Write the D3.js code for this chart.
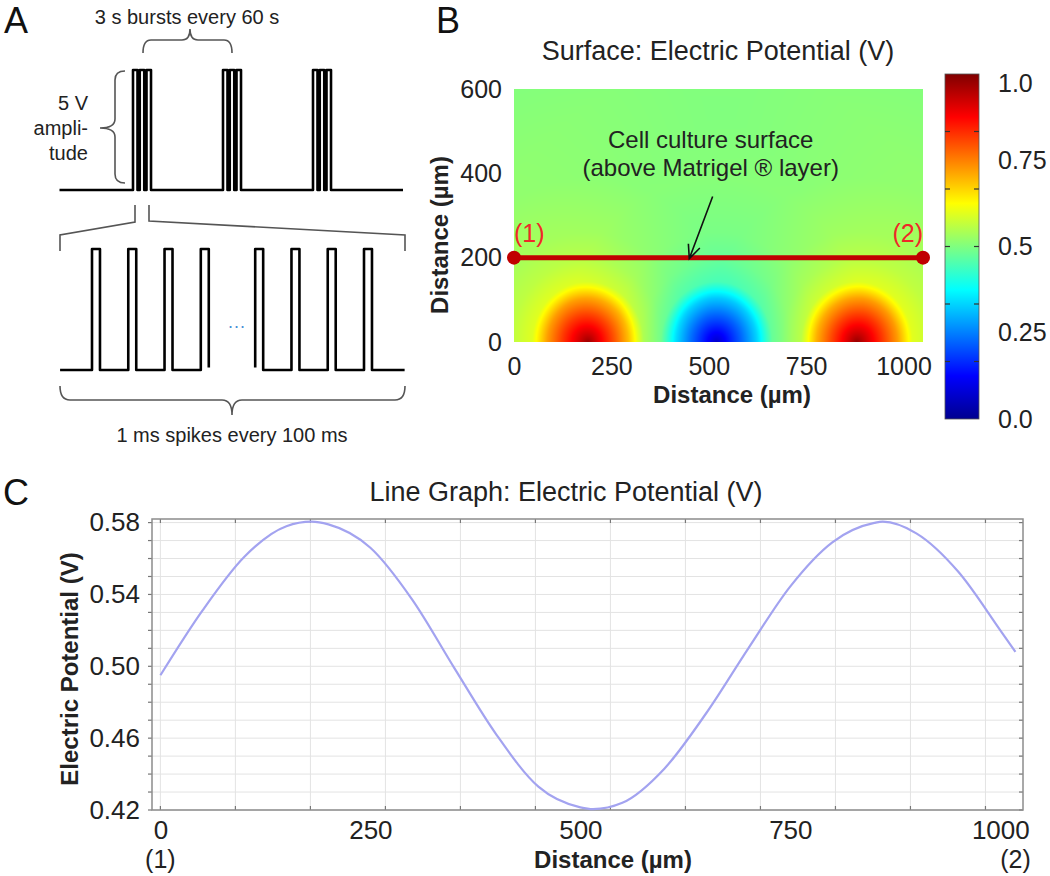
<!DOCTYPE html>
<html>
<head>
<meta charset="utf-8">
<script src="https://cdn.jsdelivr.net/npm/d3@7"></script>
<style>
  body { margin: 0; background: #fff; }
  svg text { font-family: "Liberation Sans", Arial, Helvetica, sans-serif; }
</style>
</head>
<body>
<div class="svg"></div>
<script>
// ---- panel A : stimulation schematic ----
var burstTimes = [0, 60, 120];            // s, one 3 s burst per minute
var burstSpikes = [0, 4.5, 9];            // spike offsets inside one burst (schematic)
var spikeTimesLeft = [0, 100, 200, 300];  // ms
var spikeTimesRight = [450, 550, 650, 750];

// ---- panel B : surface plot ----
var electrodeX = [190, 520, 880];         // µm, electrode centres on the floor
var electrodeV = [1.0, 0.0, 1.0];         // V
var profileR = [0, 0.15, 0.5, 0.8, 1.0, 1.1, 1.5, 2.0, 3.0, 5.0, 8.0];   // r / electrode radius
var profileF = [1.0, 0.9, 0.68, 0.48, 0.3, 0.22, 0.15, 0.1, 0.05, 0.015, 0];
var lineY = 200;                          // µm, cell culture surface
var surfXTicks = [0, 250, 500, 750, 1000];
var surfYTicks = [0, 200, 400, 600];
var cbTicks = [0, 0.25, 0.5, 0.75, 1];
var cbTickLabels = ['0.0', '0.25', '0.5', '0.75', '1.0'];
var cbMinorTicks = [1/6, 2/6, 3/6, 4/6, 5/6];
var jetStops = [0, 0.125, 0.375, 0.625, 0.875, 1];
var jetColors = ['#00008f', '#0000ff', '#00ffff', '#ffff00', '#ff0000', '#800000'];

// ---- panel C : potential along the line (1)-(2) ----
var distance  = [0, 50, 100, 150, 180, 200, 250, 300, 350, 400, 450, 500, 515,
                 550, 600, 650, 700, 750, 800, 850, 860, 900, 950, 1000, 1018];
var potential = [0.495, 0.531, 0.561, 0.578, 0.5805, 0.579, 0.566, 0.537, 0.499, 0.462, 0.433, 0.4215, 0.4205,
                 0.424, 0.443, 0.474, 0.510, 0.5445, 0.569, 0.5798, 0.5805, 0.574, 0.5526, 0.520, 0.508];
var lineXTicks = [0, 250, 500, 750, 1000];
var lineYTicks = [0.42, 0.46, 0.50, 0.54, 0.58];


function FigureDraw(settings) {
  Object.assign(this, FigureDraw.defaults, settings);
  this.appendSvg('div.svg');
  this.drawPanelA();
  this.drawSurface();
  this.drawColorbar();
  this.drawLineGraph();
  this.drawPanelLetters();
}

FigureDraw.defaults = {
  'svg_width': 1050,
  'svg_height': 876,
  'electrode_radius': 130,
  'text_color': '#222'
};

FigureDraw.prototype.appendSvg = function (selector) {
  this.svg = d3.select(selector || 'body')
    .append('svg')
    .attr('width', this.svg_width)
    .attr('height', this.svg_height);
};

FigureDraw.prototype.drawPanelA = function () {
  var svg = this.svg;
  var g = svg.append('g');
  var tc = this.text_color;

  // top trace: bursts
  var xTop = d3.scaleLinear().domain([0, 60]).range([133, 223]);
  var yTop = d3.scaleLinear().domain([0, 5]).range([190, 70]);
  var pw = 3;
  var p = d3.path();
  p.moveTo(xTop(-49), yTop(0));
  burstTimes.forEach(function (b) {
    burstSpikes.forEach(function (o) {
      var t = b + o;
      p.lineTo(xTop(t), yTop(0));
      p.lineTo(xTop(t), yTop(5));
      p.lineTo(xTop(t + pw), yTop(5));
      p.lineTo(xTop(t + pw), yTop(0));
    });
  });
  p.lineTo(xTop(180), yTop(0));
  g.append('path').attr('d', p.toString())
    .attr('fill', 'none').attr('stroke', '#000').attr('stroke-width', 2.6)
    .attr('stroke-linejoin', 'round');

  // bottom trace: single spikes
  var xBot = d3.scaleLinear().domain([0, 750]).range([92, 364]);
  var yBot = d3.scaleLinear().domain([0, 5]).range([370, 249]);
  var sw = 22;
  var pl = d3.path();
  pl.moveTo(xBot(-88), yBot(0));
  spikeTimesLeft.forEach(function (t, i) {
    pl.lineTo(xBot(t), yBot(0));
    pl.lineTo(xBot(t), yBot(5));
    pl.lineTo(xBot(t + sw), yBot(5));
    pl.lineTo(xBot(t + sw), i == spikeTimesLeft.length - 1 ? yBot(0.1) : yBot(0));
  });
  var pr = d3.path();
  spikeTimesRight.forEach(function (t, i) {
    if (i == 0) { pr.moveTo(xBot(t), yBot(0.1)); } else { pr.lineTo(xBot(t), yBot(0)); }
    pr.lineTo(xBot(t), yBot(5));
    pr.lineTo(xBot(t + sw), yBot(5));
    pr.lineTo(xBot(t + sw), yBot(0));
  });
  pr.lineTo(xBot(862), yBot(0));
  g.selectAll('path.spk').data([pl.toString(), pr.toString()]).enter()
    .append('path').attr('class', 'spk').attr('d', function (d) { return d; })
    .attr('fill', 'none').attr('stroke', '#000').attr('stroke-width', 2.6)
    .attr('stroke-linejoin', 'round');

  g.append('text').text('...')
    .attr('x', xBot(375) + 9).attr('y', 328)
    .attr('text-anchor', 'middle').attr('font-size', '18px')
    .attr('letter-spacing', '1px').attr('fill', '#4a8fd6');

  // braces and zoom lines
  var grey = '#555';
  var braces = [
    // top brace, tip up
    'M143,53 Q143,40 151,40 H182 Q190,40 190,29 Q190,40 198,40 H224 Q232,40 232,53',
    // left brace, tip left
    'M125,71 Q115,71 115,80 V119 Q115,128 100,128 Q115,128 115,137 V174 Q115,183 125,183',
    // zoom connectors
    'M135,205 V222 L60,235 V251',
    'M149,205 V221 L405,235 V251',
    // bottom brace, tip down
    'M60,386 Q60,400 70,400 H222 Q232,400 232,415 Q232,400 242,400 H395 Q405,400 405,386'
  ];
  g.selectAll('path.brace').data(braces).enter()
    .append('path').attr('class', 'brace').attr('d', function (d) { return d; })
    .attr('fill', 'none').attr('stroke', grey).attr('stroke-width', 1.6);

  g.append('text').text('3 s bursts every 60 s')
    .attr('x', 187).attr('y', 24).attr('text-anchor', 'middle')
    .attr('font-size', '20px').attr('fill', tc);
  g.selectAll('text.amp').data(['5 V', 'ampli-', 'tude']).enter()
    .append('text').attr('class', 'amp').text(function (d) { return d; })
    .attr('x', 88).attr('y', function (d, i) { return 110 + i * 25; })
    .attr('text-anchor', 'end').attr('font-size', '20px').attr('fill', tc);
  g.append('text').text('1 ms spikes every 100 ms')
    .attr('x', 232).attr('y', 442).attr('text-anchor', 'middle')
    .attr('font-size', '20px').attr('fill', tc);
};

FigureDraw.prototype.drawSurface = function () {
  var svg = this.svg;
  var tc = this.text_color;
  var R = this.electrode_radius;
  var xS = d3.scaleLinear().domain([0, 1050]).range([514, 923]);
  var yS = d3.scaleLinear().domain([0, 600]).range([342, 89]);
  var jet = d3.scaleLinear().domain(jetStops).range(jetColors).clamp(true);
  var prof = d3.scaleLinear().domain(profileR).range(profileF).clamp(true);

  function potentialAt(x, y) {
    var v = 0.5;
    electrodeX.forEach(function (ex, i) {
      var r = Math.hypot(x - ex, y) / R;
      v += (electrodeV[i] - 0.5) * prof(r);
    });
    return v;
  }

  var x0 = xS.range()[0], y0 = yS.range()[1];
  var w = Math.round(xS.range()[1] - x0), h = Math.round(yS.range()[0] - y0);
  var canvas = document.createElement('canvas');
  canvas.width = w; canvas.height = h;
  var ctx = canvas.getContext('2d');
  var img = ctx.createImageData(w, h);
  for (var py = 0; py < h; py++) {
    for (var px = 0; px < w; px++) {
      var c = d3.rgb(jet(potentialAt(xS.invert(x0 + px + 0.5), yS.invert(y0 + py + 0.5))));
      var k = (py * w + px) * 4;
      img.data[k] = c.r; img.data[k + 1] = c.g; img.data[k + 2] = c.b; img.data[k + 3] = 255;
    }
  }
  ctx.putImageData(img, 0, 0);
  svg.append('image')
    .attr('x', x0).attr('y', y0).attr('width', w).attr('height', h)
    .attr('preserveAspectRatio', 'none')
    .attr('href', canvas.toDataURL());

  // axes
  var gx = svg.append('g').attr('transform', 'translate(0,' + yS(0) + ')')
    .call(d3.axisBottom(xS).tickValues(surfXTicks).tickSize(0).tickPadding(15)
      .tickFormat(d3.format('d')));
  var gy = svg.append('g').attr('transform', 'translate(' + xS(0) + ',0)')
    .call(d3.axisLeft(yS).tickValues(surfYTicks).tickSize(0).tickPadding(12));
  [gx, gy].forEach(function (g) {
    g.select('.domain').remove();
    g.attr('font-family', null).attr('font-size', '25px');
    g.selectAll('text').attr('fill', tc);
  });

  svg.append('text').text('Surface: Electric Potential (V)')
    .attr('x', 718).attr('y', 60).attr('text-anchor', 'middle')
    .attr('font-size', '27px').attr('fill', tc);
  svg.append('text').text('Distance (µm)')
    .attr('x', 732).attr('y', 403).attr('text-anchor', 'middle')
    .attr('font-size', '24px').attr('font-weight', 'bold').attr('fill', tc);
  svg.append('text').text('Distance (µm)')
    .attr('transform', 'translate(448,235) rotate(-90)').attr('text-anchor', 'middle')
    .attr('font-size', '24px').attr('font-weight', 'bold').attr('fill', tc);

  // cut line (1)-(2)
  var ends = [0, 1050];
  svg.append('line')
    .attr('x1', xS(ends[0])).attr('x2', xS(ends[1]))
    .attr('y1', yS(lineY)).attr('y2', yS(lineY))
    .attr('stroke', '#c00000').attr('stroke-width', 5);
  svg.selectAll('circle.end').data(ends).enter()
    .append('circle').attr('class', 'end')
    .attr('cx', function (d) { return xS(d); }).attr('cy', yS(lineY)).attr('r', 7)
    .attr('fill', '#c00000');
  svg.selectAll('text.end').data(ends).enter()
    .append('text').attr('class', 'end')
    .text(function (d, i) { return '(' + (i + 1) + ')'; })
    .attr('x', function (d) { return xS(d); }).attr('y', yS(lineY) - 16)
    .attr('text-anchor', function (d, i) { return i ? 'end' : 'start'; })
    .attr('font-size', '25px').attr('fill', '#f02828');

  // annotation + arrow
  svg.selectAll('text.note').data(['Cell culture surface', '(above Matrigel \u00AE layer)']).enter()
    .append('text').attr('class', 'note').text(function (d) { return d; })
    .attr('x', xS(505)).attr('y', function (d, i) { return 148 + i * 28; })
    .attr('text-anchor', 'middle').attr('font-size', '24px').attr('fill', tc);
  var a0 = [xS(510), yS(345)], a1 = [xS(450), yS(lineY) + 1];
  var ang = Math.atan2(a1[1] - a0[1], a1[0] - a0[0]);
  var wing = function (s) {
    return [a1[0] - 15 * Math.cos(ang + s), a1[1] - 15 * Math.sin(ang + s)];
  };
  var w1 = wing(0.42), w2 = wing(-0.42);
  svg.append('path')
    .attr('d', 'M' + a0 + 'L' + a1 + 'M' + w1 + 'L' + a1 + 'L' + w2)
    .attr('fill', 'none').attr('stroke', '#111').attr('stroke-width', 1.6);
};

FigureDraw.prototype.drawColorbar = function () {
  var svg = this.svg;
  var tc = this.text_color;
  var cb = d3.scaleLinear().domain([0, 1]).range([419, 74]);
  var bx = 945, bw = 34;
  var grad = svg.append('defs').append('linearGradient')
    .attr('id', 'jet').attr('x1', 0).attr('y1', 1).attr('x2', 0).attr('y2', 0);
  grad.selectAll('stop').data(jetStops).enter().append('stop')
    .attr('offset', function (d) { return d; })
    .attr('stop-color', function (d, i) { return jetColors[i]; });
  svg.append('rect')
    .attr('x', bx).attr('y', cb(1)).attr('width', bw).attr('height', cb(0) - cb(1))
    .attr('fill', 'url(#jet)').attr('stroke', '#555').attr('stroke-width', 0.8);
  [[bx, bx + 5], [bx + bw - 5, bx + bw]].forEach(function (xx) {
    svg.selectAll(null).data(cbMinorTicks).enter().append('line')
      .attr('x1', xx[0]).attr('x2', xx[1])
      .attr('y1', function (d) { return cb(d); }).attr('y2', function (d) { return cb(d); })
      .attr('stroke', '#333').attr('stroke-width', 1.2);
  });
  var g = svg.append('g').attr('transform', 'translate(' + (bx + bw) + ',0)')
    .call(d3.axisRight(cb).tickValues(cbTicks).tickSize(0).tickPadding(19)
      .tickFormat(function (d, i) { return cbTickLabels[i]; }));
  g.select('.domain').remove();
  g.attr('font-family', null).attr('font-size', '25px');
  g.selectAll('text').attr('fill', tc);
  // top label sits just inside the bar end
  g.selectAll('.tick').filter(function (d) { return d == 1; })
    .select('text').attr('y', 9);
};

FigureDraw.prototype.drawLineGraph = function () {
  var svg = this.svg;
  var tc = this.text_color;
  var xC = d3.scaleLinear().domain([-10, 1027]).range([152, 1023]);
  var yC = d3.scaleLinear().domain([0.42, 0.582]).range([810, 519]);
  var xGrid = d3.range(0, 1027, 89.3);
  var yGrid = d3.range(0, 17).map(function (i) { return 0.42 + i * 0.01; });
  var L = xC.range()[0], Rr = xC.range()[1], T = yC.range()[1], B = yC.range()[0];

  var g = svg.append('g');
  g.selectAll('line.vg').data(xGrid).enter().append('line').attr('class', 'vg')
    .attr('x1', function (d) { return xC(d); }).attr('x2', function (d) { return xC(d); })
    .attr('y1', T).attr('y2', B).attr('stroke', '#e3e3e3').attr('stroke-width', 1);
  g.selectAll('line.hg').data(yGrid).enter().append('line').attr('class', 'hg')
    .attr('y1', function (d) { return yC(d); }).attr('y2', function (d) { return yC(d); })
    .attr('x1', L).attr('x2', Rr).attr('stroke', '#e3e3e3').attr('stroke-width', 1);

  // frame ticks
  [[T, 4], [B, -4]].forEach(function (s) {
    g.selectAll(null).data(xGrid).enter().append('line')
      .attr('x1', function (d) { return xC(d); }).attr('x2', function (d) { return xC(d); })
      .attr('y1', s[0]).attr('y2', s[0] + s[1]).attr('stroke', '#777').attr('stroke-width', 1.2);
  });
  [[L, -4], [Rr, -4]].forEach(function (s) {
    g.selectAll(null).data(yGrid).enter().append('line')
      .attr('y1', function (d) { return yC(d); }).attr('y2', function (d) { return yC(d); })
      .attr('x1', s[0]).attr('x2', s[0] + s[1]).attr('stroke', '#777').attr('stroke-width', 1.2);
  });
  g.append('rect').attr('x', L).attr('y', T).attr('width', Rr - L).attr('height', B - T)
    .attr('fill', 'none').attr('stroke', '#8c8c8c').attr('stroke-width', 1.5);

  var pts = distance.map(function (d, i) { return [d, potential[i]]; });
  g.append('path').datum(pts)
    .attr('d', d3.line()
      .x(function (d) { return xC(d[0]); })
      .y(function (d) { return yC(d[1]); })
      .curve(d3.curveMonotoneX))
    .attr('fill', 'none').attr('stroke', '#a3a3f0').attr('stroke-width', 2.2);

  var gx = svg.append('g').attr('transform', 'translate(0,' + B + ')')
    .call(d3.axisBottom(xC).tickValues(lineXTicks).tickSize(0).tickPadding(10.5)
      .tickFormat(d3.format('d')));
  var gy = svg.append('g').attr('transform', 'translate(' + L + ',0)')
    .call(d3.axisLeft(yC).tickValues(lineYTicks).tickSize(0).tickPadding(12)
      .tickFormat(d3.format('.2f')));
  [gx, gy].forEach(function (a) {
    a.select('.domain').remove();
    a.attr('font-family', null).attr('font-size', '26px');
    a.selectAll('text').attr('fill', tc);
  });

  var ends = [distance[0], distance[distance.length - 1]];
  svg.selectAll('text.cend').data(ends).enter()
    .append('text').attr('class', 'cend')
    .text(function (d, i) { return '(' + (i + 1) + ')'; })
    .attr('x', function (d) { return xC(d); }).attr('y', 868)
    .attr('text-anchor', 'middle').attr('font-size', '25px').attr('fill', tc);

  svg.append('text').text('Line Graph: Electric Potential (V)')
    .attr('x', 566).attr('y', 501).attr('text-anchor', 'middle')
    .attr('font-size', '27px').attr('fill', tc);
  svg.append('text').text('Distance (µm)')
    .attr('x', 613).attr('y', 868).attr('text-anchor', 'middle')
    .attr('font-size', '24px').attr('font-weight', 'bold').attr('fill', tc);
  svg.append('text').text('Electric Potential (V)')
    .attr('transform', 'translate(78,669) rotate(-90)').attr('text-anchor', 'middle')
    .attr('font-size', '24px').attr('font-weight', 'bold').attr('fill', tc);
};

FigureDraw.prototype.drawPanelLetters = function () {
  this.svg.selectAll('text.letter')
    .data([['A', 4, 33], ['B', 436, 33], ['C', 3, 505]]).enter()
    .append('text').attr('class', 'letter')
    .text(function (d) { return d[0]; })
    .attr('x', function (d) { return d[1]; }).attr('y', function (d) { return d[2]; })
    .attr('font-size', '36px').attr('fill', '#111');
};

new FigureDraw({ 'svg_width': 1050, 'svg_height': 876 });
</script>
</body>
</html>
